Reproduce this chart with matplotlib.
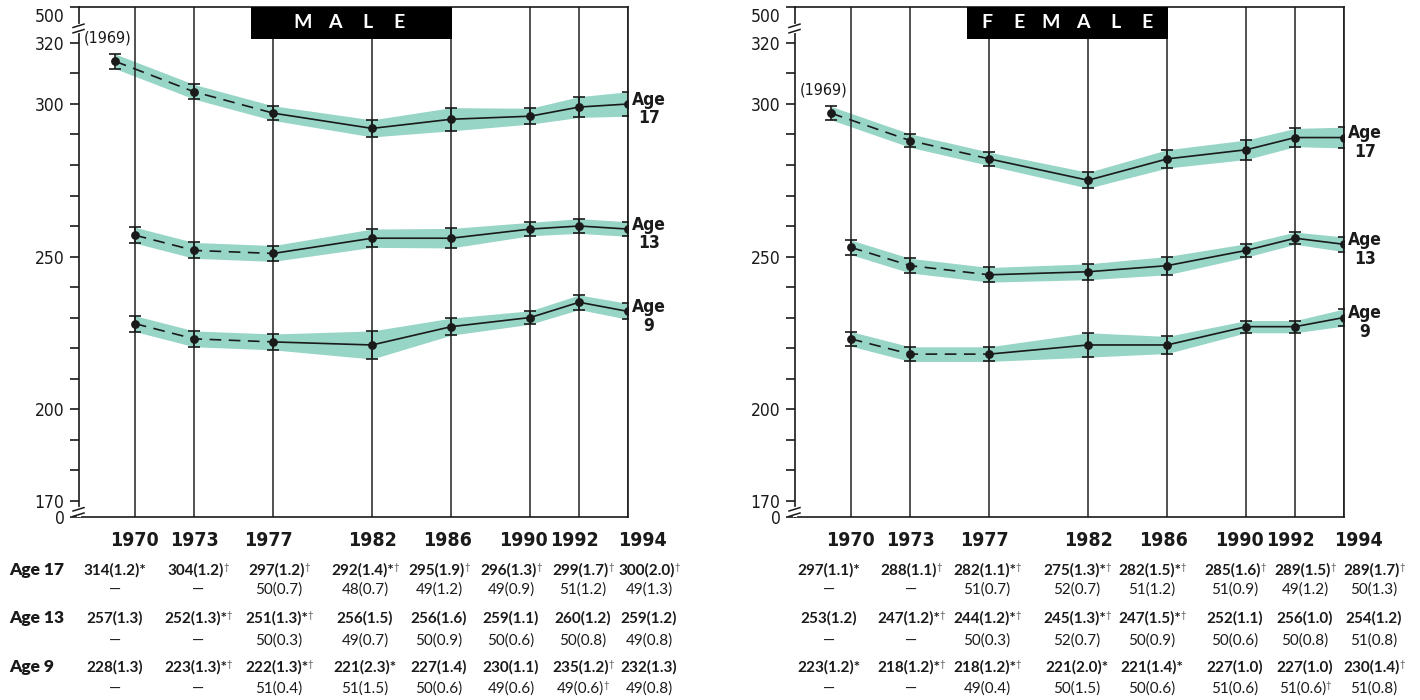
import numpy as np
import matplotlib
matplotlib.use("Agg")
import matplotlib.pyplot as plt
from matplotlib import font_manager
from matplotlib.transforms import ScaledTranslation

W, H = 1420, 700

# survey years
years_17 = [1969, 1973, 1977, 1982, 1986, 1990, 1992, 1994]
years_young = [1970, 1973, 1977, 1982, 1986, 1990, 1992, 1994]
year_labels = ["1970", "1973", "1977", "1982", "1986", "1990", "1992", "1994"]

# male: average score, standard error, markers
male_17 = [314, 304, 297, 292, 295, 296, 299, 300]
male_17_se = [1.2, 1.2, 1.2, 1.4, 1.9, 1.3, 1.7, 2.0]
male_17_mk = ["*", "†", "†", "*†", "†", "†", "†", "†"]
male_13 = [257, 252, 251, 256, 256, 259, 260, 259]
male_13_se = [1.3, 1.3, 1.3, 1.5, 1.6, 1.1, 1.2, 1.2]
male_13_mk = ["", "*†", "*†", "", "", "", "", ""]
male_9 = [228, 223, 222, 221, 227, 230, 235, 232]
male_9_se = [1.3, 1.3, 1.3, 2.3, 1.4, 1.1, 1.2, 1.3]
male_9_mk = ["", "*†", "*†", "*", "", "", "†", ""]

# male: percentage of students, standard error, markers
male_17_pct = [None, None, 50, 48, 49, 49, 51, 49]
male_17_pct_se = [None, None, 0.7, 0.7, 1.2, 0.9, 1.2, 1.3]
male_13_pct = [None, None, 50, 49, 50, 50, 50, 49]
male_13_pct_se = [None, None, 0.3, 0.7, 0.9, 0.6, 0.8, 0.8]
male_9_pct = [None, None, 51, 51, 50, 49, 49, 49]
male_9_pct_se = [None, None, 0.4, 1.5, 0.6, 0.6, 0.6, 0.8]
male_9_pct_mk = ["", "", "", "", "", "", "†", ""]

# female
female_17 = [297, 288, 282, 275, 282, 285, 289, 289]
female_17_se = [1.1, 1.1, 1.1, 1.3, 1.5, 1.6, 1.5, 1.7]
female_17_mk = ["*", "†", "*†", "*†", "*†", "†", "†", "†"]
female_13 = [253, 247, 244, 245, 247, 252, 256, 254]
female_13_se = [1.2, 1.2, 1.2, 1.3, 1.5, 1.1, 1.0, 1.2]
female_13_mk = ["", "*†", "*†", "*†", "*†", "", "", ""]
female_9 = [223, 218, 218, 221, 221, 227, 227, 230]
female_9_se = [1.2, 1.2, 1.2, 2.0, 1.4, 1.0, 1.0, 1.4]
female_9_mk = ["*", "*†", "*†", "*", "*", "", "", "†"]

female_17_pct = [None, None, 51, 52, 51, 51, 49, 50]
female_17_pct_se = [None, None, 0.7, 0.7, 1.2, 0.9, 1.2, 1.3]
female_13_pct = [None, None, 50, 52, 50, 50, 50, 51]
female_13_pct_se = [None, None, 0.3, 0.7, 0.9, 0.6, 0.8, 0.8]
female_9_pct = [None, None, 49, 50, 50, 51, 51, 51]
female_9_pct_se = [None, None, 0.4, 1.5, 0.6, 0.6, 0.6, 0.8]
female_9_pct_mk = ["", "", "", "", "", "", "†", ""]

no_mk = [""] * 8

# layout (pixels)
AX_LEFT = {"MALE": 78.5, "FEMALE": 794.5}
AX_W, AX_TOP, AX_BOT = 549.5, 7, 517
COL_X = {"MALE": [115, 198, 279, 365, 439, 511, 583, 649],
         "FEMALE": [829, 911, 987, 1077, 1152, 1235, 1305, 1374]}
ROW_Y = [(575, 594), (623, 645), (672, 693)]
YEAR_LABEL_SHIFT = [0, 0, -5, 0, -4, -7, -5, 14]

TEAL = "#97d5c6"
INK = "#1a1a1a"
GRID = "#333333"

names = {f.name for f in font_manager.fontManager.ttflist}
if "Liberation Sans Narrow" in names:
    NARROW = dict(family="Liberation Sans Narrow")
else:
    NARROW = dict(family="DejaVu Sans", stretch="condensed")
WIDE = dict(family=["Lato", "DejaVu Sans"])

STRETCH = 24.45 / 19.78


def fwd(x):
    x = np.asarray(x, dtype=float)
    return np.where(x <= 1990, x, 1990 + (x - 1990) * STRETCH)


def inv(x):
    x = np.asarray(x, dtype=float)
    return np.where(x <= 1990, x, 1990 + (x - 1990) / STRETCH)


def px(x, y):
    return x / W, 1 - y / H


def axis_break(ax, y_frac):
    pos = ax.get_position()
    bw, bh = pos.width * W, pos.height * H
    dx, dy, gap = 5.5 / bw, 1.7 / bh, 2.7 / bh
    ax.plot([0, 0], [y_frac - gap, y_frac + gap], color="white", lw=3,
            transform=ax.transAxes, clip_on=False, zorder=6)
    for s in (-1, 1):
        ax.plot([-dx, dx], [y_frac + s * gap - dy, y_frac + s * gap + dy],
                color=INK, lw=1.1, transform=ax.transAxes, clip_on=False, zorder=7)


def cell(ax, x, y, main, marks, weight):
    stars = marks.replace("†", "")
    dagger = "†" in marks
    shift = -2.5 if dagger else 0
    t = ax.figure.text(*px(x + shift, y), main + stars, ha="center", va="baseline",
                       fontsize=11, fontweight=weight, color=INK, **WIDE)
    if dagger:
        ax.annotate("†", xy=(1, 1), xycoords=t, xytext=(-0.3, 0.5),
                    textcoords="offset points", ha="left", va="top",
                    fontsize=7, color="#555555", annotation_clip=False, **WIDE)


def draw_panel(name, series, table, row_labels):
    left = AX_LEFT[name]
    ax = fig.add_axes([left / W, 1 - AX_BOT / H, AX_W / W, (AX_BOT - AX_TOP) / H])
    ax.set_xscale("function", functions=(fwd, inv))
    ax.set_xlim(1967.15, 1994)
    ylo, yhi = 164.6, 331.8
    ax.set_ylim(ylo, yhi)

    for yr in years_young:
        ax.axvline(yr, color=GRID, lw=1.2, zorder=2)

    for age, yrs, vals, se in series:
        vals = np.array(vals, float)
        band = 2 * np.array(se, float)
        ax.fill_between(yrs, vals - band, vals + band, color=TEAL, lw=0, zorder=1)
        ax.plot(yrs[:3], vals[:3], color=INK, lw=1.2, dashes=(7, 4.5), zorder=3)
        ax.plot(yrs[2:], vals[2:], color=INK, lw=1.2, zorder=3)
        ax.errorbar(yrs, vals, yerr=band, fmt="o", color=INK, ms=5.3, lw=1.2,
                    capsize=4.3, capthick=1.2, zorder=4)
        ax.annotate(f"Age\n{age}", xy=(yrs[-1], vals[-1]), xytext=(21, -5),
                    textcoords="offset pixels", ha="center", va="center",
                    fontsize=12.5, fontweight="bold", linespacing=1.05,
                    color=INK, annotation_clip=False, **NARROW)
        if yrs[0] == 1969:
            ax.annotate("(1969)", xy=(yrs[0], vals[0]), xytext=(-7, 23),
                        textcoords="offset pixels", ha="center", va="center",
                        fontsize=11.5, color=INK, **NARROW)

    # y axis
    major = [170, 200, 250, 300, 320]
    ax.set_yticks([ylo] + major + [yhi])
    ax.set_yticklabels(["0"] + [str(v) for v in major] + [""], **NARROW)
    ax.set_yticks([v for v in range(170, 321, 10) if v not in major], minor=True)
    ax.tick_params(axis="y", which="both", direction="out", length=6.5, width=1.2,
                   color=INK, labelsize=12.5, pad=3.5, labelcolor=INK)
    ax.text(-0.0255, 328.5, "500", transform=ax.get_yaxis_transform(), ha="right",
            va="center", fontsize=12.5, color=INK, **NARROW)
    axis_break(ax, 1 - 21.5 / (AX_BOT - AX_TOP))
    axis_break(ax, 5 / (AX_BOT - AX_TOP))

    # x axis
    ax.set_xticks(years_young)
    ax.set_xticklabels(year_labels, fontweight="bold", **NARROW)
    ax.tick_params(axis="x", length=0, labelsize=14, pad=10, labelcolor=INK)
    for lab, dx in zip(ax.get_xticklabels(), YEAR_LABEL_SHIFT):
        lab.set_transform(lab.get_transform() + ScaledTranslation(dx / 100, 0, fig.dpi_scale_trans))

    for sp in ax.spines.values():
        sp.set_color(INK)
        sp.set_linewidth(1.2)

    # title box
    bx0, bw, bh = 172 / AX_W, 201 / AX_W, 32 / (AX_BOT - AX_TOP)
    ax.add_patch(plt.Rectangle((bx0, 1 - bh), bw, bh, transform=ax.transAxes,
                               facecolor="black", edgecolor="none", zorder=8,
                               clip_on=False))
    step = 32 / AX_W
    for i, ch in enumerate(name):
        cx = bx0 + bw / 2 + (i - (len(name) - 1) / 2) * step
        ax.text(cx, 1 - bh / 2, ch, transform=ax.transAxes, ha="center", va="center",
                color="white", fontsize=14, fontweight="bold", zorder=9, **WIDE)

    # table underneath
    for r, (vals, se, mk, pct, pse, pmk) in enumerate(table):
        y1, y2 = ROW_Y[r]
        if row_labels:
            fig.text(*px(9, y1), row_labels[r], ha="left", va="baseline",
                     fontsize=12.5, fontweight="heavy", color=INK, **WIDE)
        for c, x in enumerate(COL_X[name]):
            cell(ax, x, y1, f"{vals[c]}({se[c]:.1f})", mk[c], "bold")
            if pct[c] is None:
                fig.text(*px(x, y2), "—", ha="center", va="baseline",
                         fontsize=11, color=INK, **WIDE)
            else:
                cell(ax, x, y2, f"{pct[c]}({pse[c]:.1f})", pmk[c], "normal")
    return ax


fig = plt.figure(figsize=(W / 100, H / 100), dpi=100)

draw_panel(
    "MALE",
    [("17", years_17, male_17, male_17_se),
     ("13", years_young, male_13, male_13_se),
     ("9", years_young, male_9, male_9_se)],
    [(male_17, male_17_se, male_17_mk, male_17_pct, male_17_pct_se, no_mk),
     (male_13, male_13_se, male_13_mk, male_13_pct, male_13_pct_se, no_mk),
     (male_9, male_9_se, male_9_mk, male_9_pct, male_9_pct_se, male_9_pct_mk)],
    ["Age 17", "Age 13", "Age 9"],
)
draw_panel(
    "FEMALE",
    [("17", years_17, female_17, female_17_se),
     ("13", years_young, female_13, female_13_se),
     ("9", years_young, female_9, female_9_se)],
    [(female_17, female_17_se, female_17_mk, female_17_pct, female_17_pct_se, no_mk),
     (female_13, female_13_se, female_13_mk, female_13_pct, female_13_pct_se, no_mk),
     (female_9, female_9_se, female_9_mk, female_9_pct, female_9_pct_se, female_9_pct_mk)],
    None,
)

fig.savefig("out.png", dpi=100)
